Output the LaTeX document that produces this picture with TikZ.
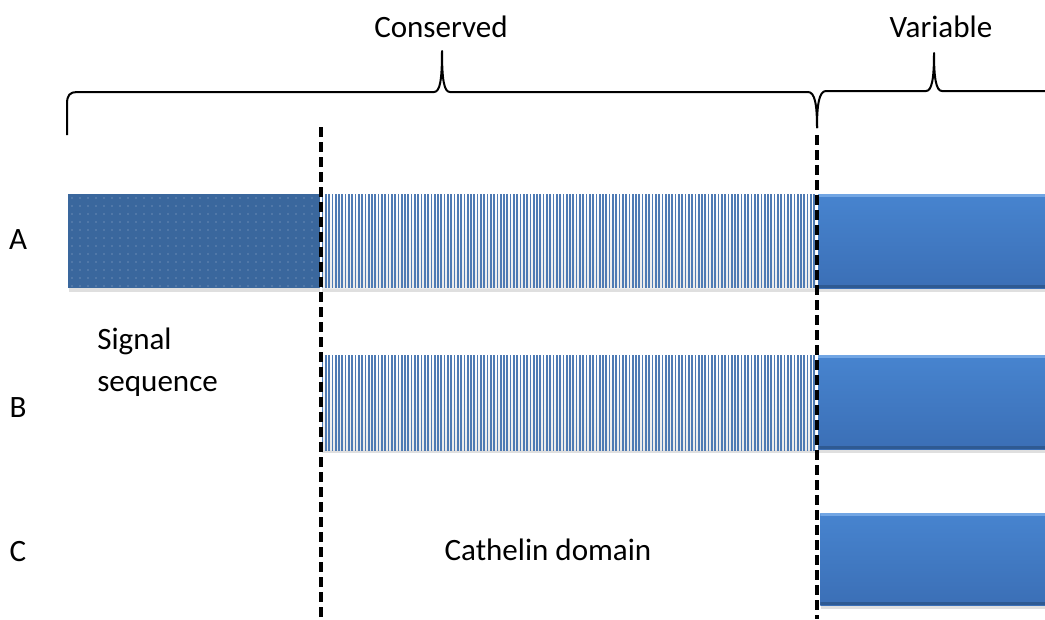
\documentclass[tikz,border=0pt]{standalone}
\usepackage{fontspec}
\setmainfont{Carlito}
\usetikzlibrary{positioning,shadows}

\definecolor{vartop}{HTML}{4784CF}
\definecolor{varbot}{HTML}{3B6FB6}
\definecolor{varhi}{HTML}{72A6E4}
\definecolor{varlo}{HTML}{2F5A92}
\definecolor{sigblue}{HTML}{3A679D}
\definecolor{stripe}{HTML}{4F7BB4}

\begin{document}
\begin{tikzpicture}[x=0.75pt,y=-0.75pt,
    every node/.style={font=\fontsize{23.3}{31.5}\selectfont},
    shade/.style={drop shadow={shadow xshift=0.8pt,shadow yshift=-2.5pt,opacity=0.25}},
    seg/.style={shade,inner sep=0,anchor=north west,minimum height=70.5pt},
    varbox/.style={seg,top color=vartop,bottom color=varbot,
        path picture={
            \fill[varhi] (path picture bounding box.north west) rectangle
                ([yshift=-2pt]path picture bounding box.north east);
            \fill[varlo] (path picture bounding box.south west) rectangle
                ([yshift=2.2pt]path picture bounding box.south east);}},
    sigbox/.style={seg,fill=sigblue},
    catbox/.style={seg,top color=white,bottom color=black!8},
    brace/.style={line width=1.5pt,line join=round},
    cut/.style={line width=2.6pt,dash pattern=on 7.5pt off 3.75pt,
        preaction={draw=white,line width=1.2pt,solid}}]
    \useasboundingbox (0,0) rectangle (1045,619);

    % row A
    \node[sigbox,minimum width=189.75pt] (sigA) at (68,194) {};
    \foreach \x in {72,80,...,316}
        \foreach \y in {198,206,...,286}
            \fill[white,opacity=0.5] (\x,\y) circle (0.6);
    \node[catbox,minimum width=372pt] (catA) at (321,194) {};
    \foreach \x in {322.5,325.8,...,816}
        \draw[stripe,line width=1.25pt] (\x,194) -- (\x,288);
    \node[varbox,minimum width=171pt] (varA) at (817,194) {};

    % row B
    \node[catbox,minimum width=372pt] (catB) at (321,355) {};
    \foreach \x in {322.5,325.8,...,816}
        \draw[stripe,line width=1.25pt] (\x,355) -- (\x,451);
    \node[varbox,minimum width=171pt] (varB) at (817,355) {};

    % row C
    \node[varbox,minimum width=168.75pt,minimum height=69pt] (varC) at (820,513) {};

    % braces
    \coordinate (bl) at (67,135);
    \coordinate (bm) at (817,128);
    \coordinate (br) at (1045,91);
    \draw[brace] (bl) -- (67,104) .. controls (67,95) and (70,92) .. (77,92)
        -- (434,92) .. controls (440,92) and (442,80) .. (442,51)
        .. controls (442,80) and (444,92) .. (450,92)
        -- (808,92) .. controls (815,92) and (817,105) .. (bm);
    \draw[brace] (bm) .. controls (817,105) and (819,91) .. (826,91)
        -- (926,91) .. controls (932,91) and (934,78) .. (934,53)
        .. controls (934,78) and (936,91) .. (942,91) -- (br);

    % boundaries
    \coordinate (cut1) at (321,127);
    \coordinate (cut1e) at (321,619);
    \coordinate (cut2) at (817,135);
    \coordinate (cut2e) at (817,619);
    \draw[cut] (cut1) -- (cut1e);
    \draw[cut] (cut2) -- (cut2e);

    % labels
    \node (cons) at (441,27) {Conserved};
    \node (var) at (941,27) {Variable};
    \node (la) at (18,240) {A};
    \node (lb) at (18,408) {B};
    \node (lc) at (18,552) {C};
    \node[anchor=west,align=left,inner sep=0] (sig) at (97,362) {Signal\\sequence};
    \node (cath) at (548,550) {Cathelin domain};
\end{tikzpicture}
\end{document}
